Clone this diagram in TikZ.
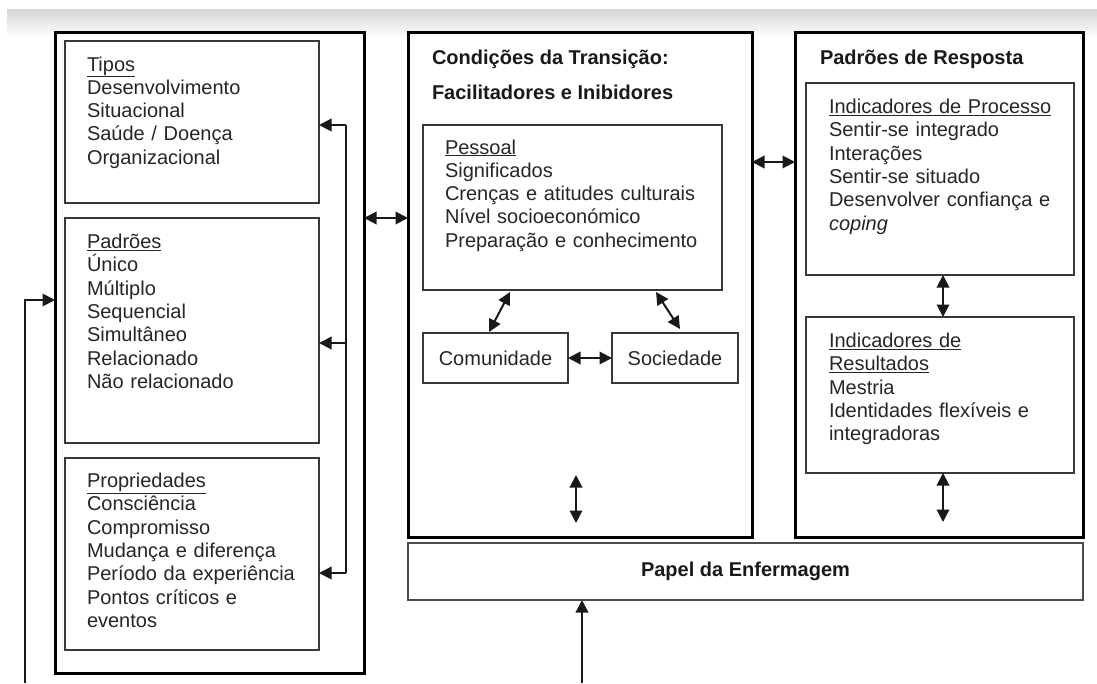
\documentclass[tikz,border=0pt]{standalone}
\usepackage{fontspec}
\setmainfont{Liberation Sans}
\usetikzlibrary{arrows.meta}
\newcommand\bodyfnt{\fontsize{20}{23.3}\selectfont}
\newcommand\boldfnt{\fontsize{20}{23}\selectfont\bfseries}
\tikzset{
  obox/.style={draw=black, line width=3pt, inner sep=0pt, outer sep=0pt, anchor=north west},
  ibox/.style={draw=black!78, line width=1.8pt, inner sep=0pt, outer sep=0pt, anchor=north west},
  txt/.style={inner sep=0pt, outer sep=0pt, anchor=base west, align=left, text width=260pt, font=\bodyfnt, text=black!85},
  ttl/.style={inner sep=0pt, outer sep=0pt, anchor=base west, font=\boldfnt, text=black!90},
  conn/.style={line width=2pt, draw=black!90},
  dbl/.style={conn, {Triangle[length=12.5pt,width=12.5pt]}-{Triangle[length=12.5pt,width=12.5pt]}},
  sgl/.style={conn, -{Triangle[length=12.5pt,width=12.5pt]}}
}
\begin{document}
\begin{tikzpicture}[x=1pt,y=-1pt]
\useasboundingbox (0,0) rectangle (1097,683);
\fill[white] (0,0) rectangle (1097,683);
\shade[top color=black!16, bottom color=white] (7,9) rectangle (1097,38);

% outer boxes
\node[obox, minimum width=309pt, minimum height=641pt] (left) at (55,32) {};
\node[obox, minimum width=344pt, minimum height=505pt] (mid) at (408,32) {};
\node[obox, minimum width=288pt, minimum height=505pt] (right) at (795,32) {};

% left inner boxes
\node[ibox, minimum width=254pt, minimum height=162pt] (tipos) at (65,41) {};
\node[ibox, minimum width=254pt, minimum height=225pt] (padroes) at (65,218) {};
\node[ibox, minimum width=254pt, minimum height=192pt] (props) at (65,458) {};

\node[txt] (tiposT) at (87,71) {\underline{Tipos}\\Desenvolvimento\\Situacional\\Saúde / Doença\\Organizacional};
\node[txt] (padroesT) at (87,248.5) {\underline{Padrões}\\Único\\Múltiplo\\Sequencial\\Simultâneo\\Relacionado\\Não relacionado};
\node[txt] (propsT) at (87,487.5) {\underline{Propriedades}\\Consciência\\Compromisso\\Mudança e diferença\\Período da experiência\\Pontos críticos e\\eventos};

% middle
\node[ttl] (condT) at (432,64) {Condições da Transição:};
\node[ttl] (facT) at (432,99) {Facilitadores e Inibidores};
\node[ibox, minimum width=299pt, minimum height=165pt] (pessoal) at (423,125) {};
\node[txt] (pessoalT) at (445,154) {\underline{Pessoal}\\Significados\\Crenças e atitudes culturais\\Nível socioeconómico\\Preparação e conhecimento};
\node[ibox, minimum width=145pt, minimum height=50pt] (comun) at (423,333) {};
\node[ibox, minimum width=126pt, minimum height=50pt] (soc) at (612,333) {};
\node[font=\bodyfnt, text=black!85, inner sep=0pt] (comunT) at (comun.center) {Comunidade};
\node[font=\bodyfnt, text=black!85, inner sep=0pt] (socT) at (soc.center) {Sociedade};

% papel
\node[ibox, line width=1.5pt, draw=black!70, minimum width=675pt, minimum height=57pt] (papel) at (408,543) {};
\node[font=\boldfnt, text=black!90, inner sep=0pt] (papelT) at (papel.center) {Papel da Enfermagem};

% right
\node[ttl] (respT) at (820,64) {Padrões de Resposta};
\node[ibox, minimum width=268pt, minimum height=192pt] (proc) at (806,83) {};
\node[ibox, minimum width=268pt, minimum height=156pt] (res) at (806,317) {};
\node[txt] (procT) at (829,113.5) {\underline{Indicadores de Processo}\\Sentir-se integrado\\Interações\\Sentir-se situado\\Desenvolver confiança e\\\textit{coping}};
\node[txt] (resT) at (829,347.5) {\underline{Indicadores de}\\\underline{Resultados}\\Mestria\\Identidades flexíveis e\\integradoras};

% coordinates
\coordinate (vtop) at (346,125);
\coordinate (vmid) at (346,343);
\coordinate (vbot) at (346,573);
\coordinate (fbot) at (25,683);
\coordinate (fturn) at (25,300);
\coordinate (m1) at (576,475);
\coordinate (m2) at (576,523);
\coordinate (r1) at (943,522);
\coordinate (pbot) at (582,683);

% left feedback lines
\draw[conn] (vtop) -- (vbot);
\draw[sgl] (vtop) -- (vtop -| tipos.east);
\draw[sgl] (vmid) -- (vmid -| padroes.east);
\draw[sgl] (vbot) -- (vbot -| props.east);
\draw[sgl] (fbot) -- (fturn) -- (fturn -| left.west);

% main double arrows
\draw[dbl] (left.east |- 0,218) -- (mid.west |- 0,218);
\draw[dbl] (mid.east |- 0,162) -- (right.west |- 0,162);
\draw[dbl] (comun.east) -- (soc.west);
\draw[dbl] (489,332) -- (510,292);
\draw[dbl] (656,292) -- (680,329);
\draw[dbl] (m1) -- (m2);
\draw[dbl] (proc.south -| 943,0) -- (res.north -| 943,0);
\draw[dbl] (res.south -| 943,0) -- (r1);
\draw[sgl] (pbot) -- (pbot |- papel.south);
\end{tikzpicture}
\end{document}
